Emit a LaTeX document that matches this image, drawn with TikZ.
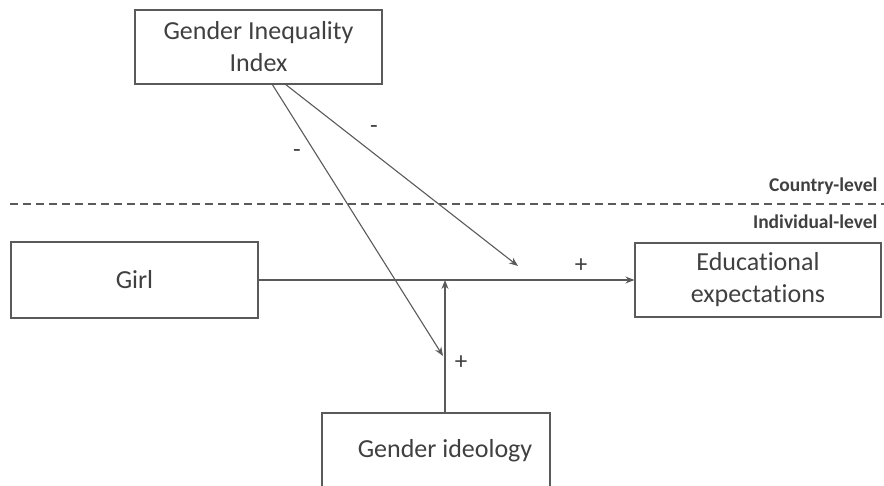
\documentclass[tikz,border=0pt]{standalone}
\usepackage{fontspec}
\setmainfont{Carlito}[Ligatures=NoCommon]
\usetikzlibrary{arrows.meta}
\definecolor{linegray}{HTML}{5A5A5A}
\definecolor{textgray}{HTML}{404040}
\begin{document}
\begin{tikzpicture}[x=1pt,y=-1pt,
  box/.style={draw=linegray, line width=1.1pt, fill=white, inner sep=0pt, align=center,
     font=\fontsize{26}{32}\selectfont, text=textgray},
  conn/.style={draw=linegray, line width=1.1pt, -{Stealth[length=9pt,width=7pt]}},
  sign/.style={font=\fontsize{25}{28}\selectfont, text=textgray},
  lvl/.style={font=\bfseries\fontsize{19.5}{22}\selectfont, text=textgray, anchor=east}]
\useasboundingbox (0,0) rectangle (884,486);
\clip (0,0) rectangle (884,486);
% boxes
\node[box, minimum width=247pt, minimum height=74pt] (gii) at (258.5,47) {Gender Inequality\\Index};
\node[box, minimum width=247pt, minimum height=76pt] (girl) at (134.5,280) {Girl};
\node[box, minimum width=246pt, minimum height=74pt] (edu) at (758,280) {Educational\\expectations};
\node[box, minimum width=228pt, minimum height=100pt] (gid) at (436,463) {};
\node[font=\fontsize{26}{32}\selectfont, text=textgray] (gidtext) at (445,451) {Gender ideology};
% level divider
\coordinate (dl) at (10,204);
\coordinate (dr) at (884,204);
\draw[linegray, line width=1.1pt, dash pattern=on 8pt off 5pt] (dl) -- (dr);
\node[lvl] (country) at (881,186) {Country-level};
\node[lvl] (indiv) at (881,222) {Individual-level};
% connectors
\coordinate (mod) at (445,280);
\coordinate (gidtop) at (445,413);
\coordinate (gA) at (272,84);
\coordinate (gB) at (285,84);
\coordinate (tA) at (443,356);
\coordinate (tB) at (518,266);
\draw[conn] (girl.east) -- (edu.west);
\draw[conn] (gidtop) -- (mod);
\draw[conn] (gA) -- (tA);
\draw[conn] (gB) -- (tB);
% signs
\node[sign] (s1) at (374,130) {-};
\node[sign] (s2) at (297,154) {-};
\node[sign] (s3) at (581,266) {+};
\node[sign] (s4) at (461,363) {+};
\end{tikzpicture}
\end{document}
